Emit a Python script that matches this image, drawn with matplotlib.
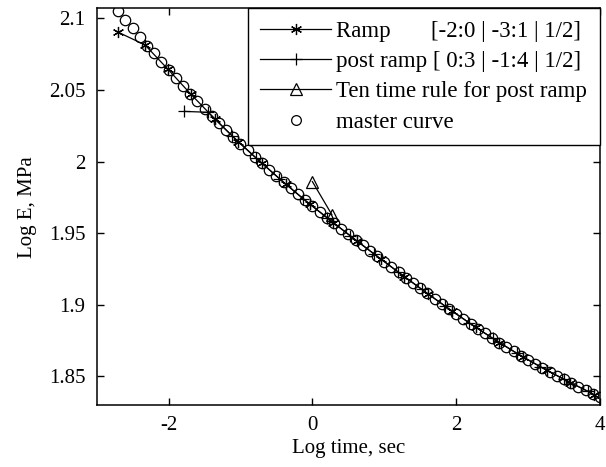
import matplotlib
matplotlib.use("Agg")
import matplotlib.pyplot as plt
from matplotlib.lines import Line2D

plt.rcParams['font.family'] = ['Liberation Serif', 'DejaVu Serif']

# Master curve (log time, log E)
master_x = [-2.7, -2.6, -2.5, -2.4, -2.3, -2.2, -2.1, -2.0, -1.9, -1.8,
            -1.7, -1.6, -1.5, -1.4, -1.3, -1.2, -1.1, -1.0, -0.9, -0.8,
            -0.7, -0.6, -0.5, -0.4, -0.3, -0.2, -0.1, 0.0, 0.1, 0.2,
            0.3, 0.4, 0.5, 0.6, 0.7, 0.8, 0.9, 1.0, 1.1, 1.2,
            1.3, 1.4, 1.5, 1.6, 1.7, 1.8, 1.9, 2.0, 2.1, 2.2,
            2.3, 2.4, 2.5, 2.6, 2.7, 2.8, 2.9, 3.0, 3.1, 3.2,
            3.3, 3.4, 3.5, 3.6, 3.7, 3.8, 3.9, 4.0]
master_y = [2.1050, 2.0990, 2.0930, 2.0870, 2.0810, 2.0755, 2.0697, 2.0640, 2.0584, 2.0529,
            2.0475, 2.0422, 2.0370, 2.0319, 2.0269, 2.0220, 2.0172, 2.0123, 2.0078, 2.0032,
            1.9987, 1.9942, 1.9898, 1.9855, 1.9812, 1.9770, 1.9729, 1.9688, 1.9648, 1.9609,
            1.9570, 1.9531, 1.9492, 1.9453, 1.9415, 1.9377, 1.9339, 1.9301, 1.9263, 1.9226,
            1.9189, 1.9152, 1.9115, 1.9079, 1.9043, 1.9007, 1.8971, 1.8936, 1.8901, 1.8867,
            1.8833, 1.8800, 1.8768, 1.8736, 1.8705, 1.8674, 1.8644, 1.8615, 1.8587, 1.8559,
            1.8532, 1.8505, 1.8479, 1.8453, 1.8428, 1.8403, 1.8378, 1.8354]

# Ramp segment data
ramp_x = [-2.71, -2.33, -2.01, -1.69, -1.36, -1.03, -0.70, -0.37, -0.04, 0.29, 0.62,
          0.95, 1.28, 1.61, 1.94, 2.27, 2.60, 2.93, 3.26, 3.59, 3.92]
ramp_y = [2.0905, 2.0815, 2.0645, 2.0470, 2.0299, 2.0137, 1.9987, 1.9842, 1.9704, 1.9574, 1.9445,
          1.9320, 1.9196, 1.9075, 1.8957, 1.8843, 1.8736, 1.8635, 1.8543, 1.8456, 1.8373]

# Post-ramp segment data
post_x = [-1.78, -1.45, -1.12, -0.79, -0.46, -0.13, 0.20, 0.53, 0.86, 1.19,
          1.52, 1.85, 2.18, 2.51, 2.84, 3.17, 3.50, 3.83]
post_y = [2.0350, 2.0344, 2.0181, 2.0028, 1.9881, 1.9741, 1.9609, 1.9480, 1.9354, 1.9230,
          1.9108, 1.8989, 1.8874, 1.8765, 1.8662, 1.8567, 1.8479, 1.8396]

# Ten time rule points
ten_x = [0.0, 0.27]
ten_y = [1.986, 1.963]

labels = ["Ramp       [-2:0 | -3:1 | 1/2]",
          "post ramp [ 0:3 | -1:4 | 1/2]",
          "Ten time rule for post ramp",
          "master curve"]
x_ticks = [-2, 0, 2, 4]
y_ticks = [1.85, 1.9, 1.95, 2.0, 2.05, 2.1]
y_ticklabels = ["1.85", "1.9", "1.95", "2", "2.05", "2.1"]

fig = plt.figure(figsize=(6.06, 4.67), dpi=100)
ax = fig.add_axes([0.1596, 0.1328, 0.8304, 0.8494])

asterisk = (6, 2, 0)
ax.plot(master_x, master_y, linestyle='none', marker='o', markersize=7.5,
        markerfacecolor='none', markeredgecolor='black', markeredgewidth=0.9)
ax.plot(ramp_x, ramp_y, color='black', linewidth=0.9, marker=asterisk,
        markersize=8, markeredgewidth=0.9)
ax.plot(post_x, post_y, color='black', linewidth=0.9, marker='+',
        markersize=8, markeredgewidth=0.9)
ax.plot(ten_x, ten_y, color='black', linewidth=0.9, marker='^', markersize=8,
        markerfacecolor='none', markeredgecolor='black', markeredgewidth=0.9)

ax.set_xlim(-3, 4)
ax.set_ylim(1.83, 2.107)
ax.set_xticks(x_ticks)
ax.set_xticklabels([str(v) for v in x_ticks])
ax.set_yticks(y_ticks)
ax.set_yticklabels(y_ticklabels)
ax.tick_params(direction='in', top=True, right=True, length=5, width=1,
               labelsize=15, pad=8)
for s in ax.spines.values():
    s.set_linewidth(1.1)

ax.set_xlabel("Log time, sec", fontsize=15, labelpad=3)
ax.set_ylabel("Log E, MPa", fontsize=15, labelpad=9)

handles = [
    Line2D([], [], color='black', linewidth=0.9, marker=asterisk, markersize=8, markeredgewidth=0.9),
    Line2D([], [], color='black', linewidth=0.9, marker='+', markersize=8, markeredgewidth=0.9),
    Line2D([], [], color='black', linewidth=0.9, marker='^', markersize=8,
           markerfacecolor='none', markeredgewidth=0.9),
    Line2D([], [], linestyle='none', marker='o', markersize=7,
           markerfacecolor='none', markeredgecolor='black', markeredgewidth=0.9),
]
leg = ax.legend(handles, labels, loc='upper right', borderaxespad=0, fontsize=16.5,
                fancybox=False, edgecolor='black', framealpha=1, numpoints=1,
                handlelength=3.1, handletextpad=0.22, labelspacing=0.4,
                borderpad=0.55)
leg.get_frame().set_linewidth(1.0)

fig.savefig("out.png", dpi=100)
